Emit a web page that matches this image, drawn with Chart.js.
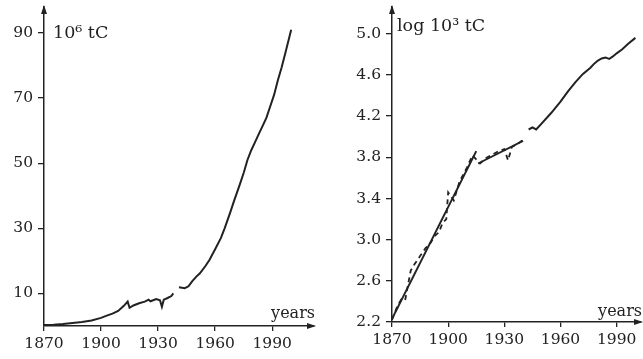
<!DOCTYPE html>
<html>
<head>
<meta charset="utf-8">
<script src="https://cdn.jsdelivr.net/npm/chart.js@4.4.0/dist/chart.umd.min.js"></script>
<style>
  body { margin: 0; background: #fff; }
  canvas { position: absolute; top: 0; }
  #left { left: 0; }
  #right { left: 320px; }
</style>
</head>
<body>
<canvas id="left" width="320" height="359"></canvas>
<canvas id="right" width="323" height="359"></canvas>
<script>
// left panel - emissions in 10^6 tC
var yearsA = [1870, 1875, 1880, 1885, 1890, 1895, 1900, 1903, 1906, 1909, 1912, 1914, 1915, 1917, 1920, 1923, 1925, 1926, 1929, 1931, 1932, 1933, 1935, 1937, 1938, 1939,
  1941, 1944, 1946, 1948, 1950, 1952, 1955, 1957, 1960, 1963, 1965, 1968, 1970, 1973, 1975, 1977, 1979, 1981, 1983, 1985, 1987, 1989, 1991, 1993, 1995, 1997, 2000];
var carbonA = [0.3, 0.4, 0.6, 0.9, 1.2, 1.7, 2.5, 3.2, 3.8, 4.6, 6.2, 7.5, 5.6, 6.3, 7.0, 7.5, 8.1, 7.6, 8.3, 7.9, 5.9, 8.1, 8.6, 9.2, 10.0, null,
  11.9, 11.6, 12.2, 13.8, 15.1, 16.2, 18.5, 20.3, 23.6, 27.0, 30.0, 35.0, 38.5, 43.5, 47.0, 51.0, 54.0, 56.5, 59.0, 61.5, 64.0, 67.5, 71.0, 75.5, 79.5, 84.0, 91.0];

// right panel - log of emissions in 10^3 tC
var yearsObsEarly = [1870, 1873, 1875, 1877, 1880, 1882, 1885, 1888, 1890, 1893, 1895, 1897, 1899, 1900, 1903, 1906, 1910, 1913,
  1917, 1920, 1924, 1927, 1930, 1932, 1934, 1937, 1940];
var logObsEarly = [2.22, 2.36, 2.42, 2.41, 2.70, 2.76, 2.84, 2.92, 2.95, 3.04, 3.07, 3.16, 3.20, 3.46, 3.38, 3.56, 3.70, 3.82,
  3.74, 3.79, 3.83, 3.86, 3.88, 3.77, 3.90, 3.93, 3.97];
var yearsObsLate = [1943, 1945, 1947, 1950, 1955, 1960, 1964, 1968, 1972, 1976, 1978, 1980, 1982, 1984, 1986, 1988, 1990, 1993, 1996, 2000];
var logObsLate = [4.07, 4.09, 4.07, 4.13, 4.23, 4.34, 4.44, 4.53, 4.61, 4.67, 4.71, 4.74, 4.76, 4.77, 4.755, 4.78, 4.81, 4.85, 4.90, 4.96];
var yearsFit1 = [1870, 1915];
var logFit1 = [2.23, 3.86];
var yearsFit2 = [1916, 1940];
var logFit2 = [3.74, 3.96];

// ticks
var xTicks = [1870, 1900, 1930, 1960, 1990];
var yTicksA = [10, 30, 50, 70, 90];
var yTicksB = [2.2, 2.6, 3.0, 3.4, 3.8, 4.2, 4.6, 5.0];

var ink = '#222';
var serif = 'DejaVu Serif';

function pts(xs, ys) {
  return xs.map(function (x, i) { return { x: x, y: ys[i] }; });
}

function setTicks(list) {
  return function (scale) {
    scale.ticks = list.map(function (v) { return { value: v }; });
  };
}

// arrows at the axis ends, axis titles
var axisDeco = {
  id: 'axisDeco',
  afterDraw: function (chart, args, opts) {
    var ctx = chart.ctx;
    var a = chart.chartArea;
    ctx.save();
    ctx.fillStyle = ink;
    ctx.beginPath();
    ctx.moveTo(a.right + 2, a.bottom);
    ctx.lineTo(a.right - 7, a.bottom - 3);
    ctx.lineTo(a.right - 7, a.bottom + 3);
    ctx.closePath();
    ctx.fill();
    ctx.beginPath();
    ctx.moveTo(a.left, a.top - 2);
    ctx.lineTo(a.left - 3, a.top + 7);
    ctx.lineTo(a.left + 3, a.top + 7);
    ctx.closePath();
    ctx.fill();

    ctx.textBaseline = 'alphabetic';
    ctx.textAlign = 'left';
    ctx.font = '17.5px "' + serif + '"';
    ctx.fillText(opts.yTitle, a.left + opts.titleDx, opts.titleY);
    ctx.font = '16px "' + serif + '"';
    ctx.textAlign = 'right';
    ctx.fillText('years', a.right + 1, a.bottom - opts.yearsDy);
    ctx.restore();
  }
};

function makeOptions(xMax, yMin, yMax, yTicks, yFmt, yWidth, xHeight, pad, deco) {
  return {
    responsive: false,
    animation: false,
    layout: { padding: pad },
    plugins: { legend: { display: false }, tooltip: { enabled: false }, axisDeco: deco },
    elements: { point: { radius: 0 }, line: { tension: 0 } },
    scales: {
      x: {
        type: 'linear', min: 1870, max: xMax,
        afterBuildTicks: setTicks(xTicks),
        afterFit: function (s) { s.height = xHeight; s.paddingLeft = 0; s.paddingRight = 0; },
        grid: { drawOnChartArea: false, drawTicks: true, tickLength: 5, color: ink, lineWidth: 1.3 },
        border: { color: ink, width: 1.5 },
        ticks: { color: ink, padding: 4, font: { family: serif, size: 15.5 }, callback: function (v) { return String(v); } }
      },
      y: {
        type: 'linear', min: yMin, max: yMax,
        afterBuildTicks: setTicks(yTicks),
        afterFit: function (s) { s.width = yWidth; s.paddingTop = 0; s.paddingBottom = 0; },
        grid: { drawOnChartArea: false, drawTicks: true, tickLength: 6, color: ink, lineWidth: 1.3 },
        border: { color: ink, width: 1.5 },
        ticks: { color: ink, padding: 5, font: { family: serif, size: 15.5 }, callback: yFmt }
      }
    }
  };
}

new Chart(document.getElementById('left'), {
  type: 'line',
  data: {
    datasets: [{
      data: pts(yearsA, carbonA),
      borderColor: ink, borderWidth: 2, spanGaps: false
    }]
  },
  options: makeOptions(2012, 0, 98, yTicksA, function (v) { return String(v); }, 44, 33,
    { top: 7, right: 6, left: 0, bottom: 0 },
    { yTitle: '10\u2076 tC', titleDx: 9, titleY: 38, yearsDy: 8 }),
  plugins: [axisDeco]
});

new Chart(document.getElementById('right'), {
  type: 'line',
  data: {
    datasets: [
      { data: pts(yearsFit1, logFit1), borderColor: ink, borderWidth: 2 },
      { data: pts(yearsFit2, logFit2), borderColor: ink, borderWidth: 1.8 },
      { data: pts(yearsObsEarly, logObsEarly), borderColor: ink, borderWidth: 1.8, borderDash: [5, 4] },
      { data: pts(yearsObsLate, logObsLate), borderColor: ink, borderWidth: 2 }
    ]
  },
  options: makeOptions(2003, 2.2, 5.26, yTicksB, function (v) { return v.toFixed(1); }, 72, 37,
    { top: 7, right: 2, left: 0, bottom: 0 },
    { yTitle: 'log 10\u00b3 tC', titleDx: 5, titleY: 31, yearsDy: 6 }),
  plugins: [axisDeco]
});
</script>
</body>
</html>
